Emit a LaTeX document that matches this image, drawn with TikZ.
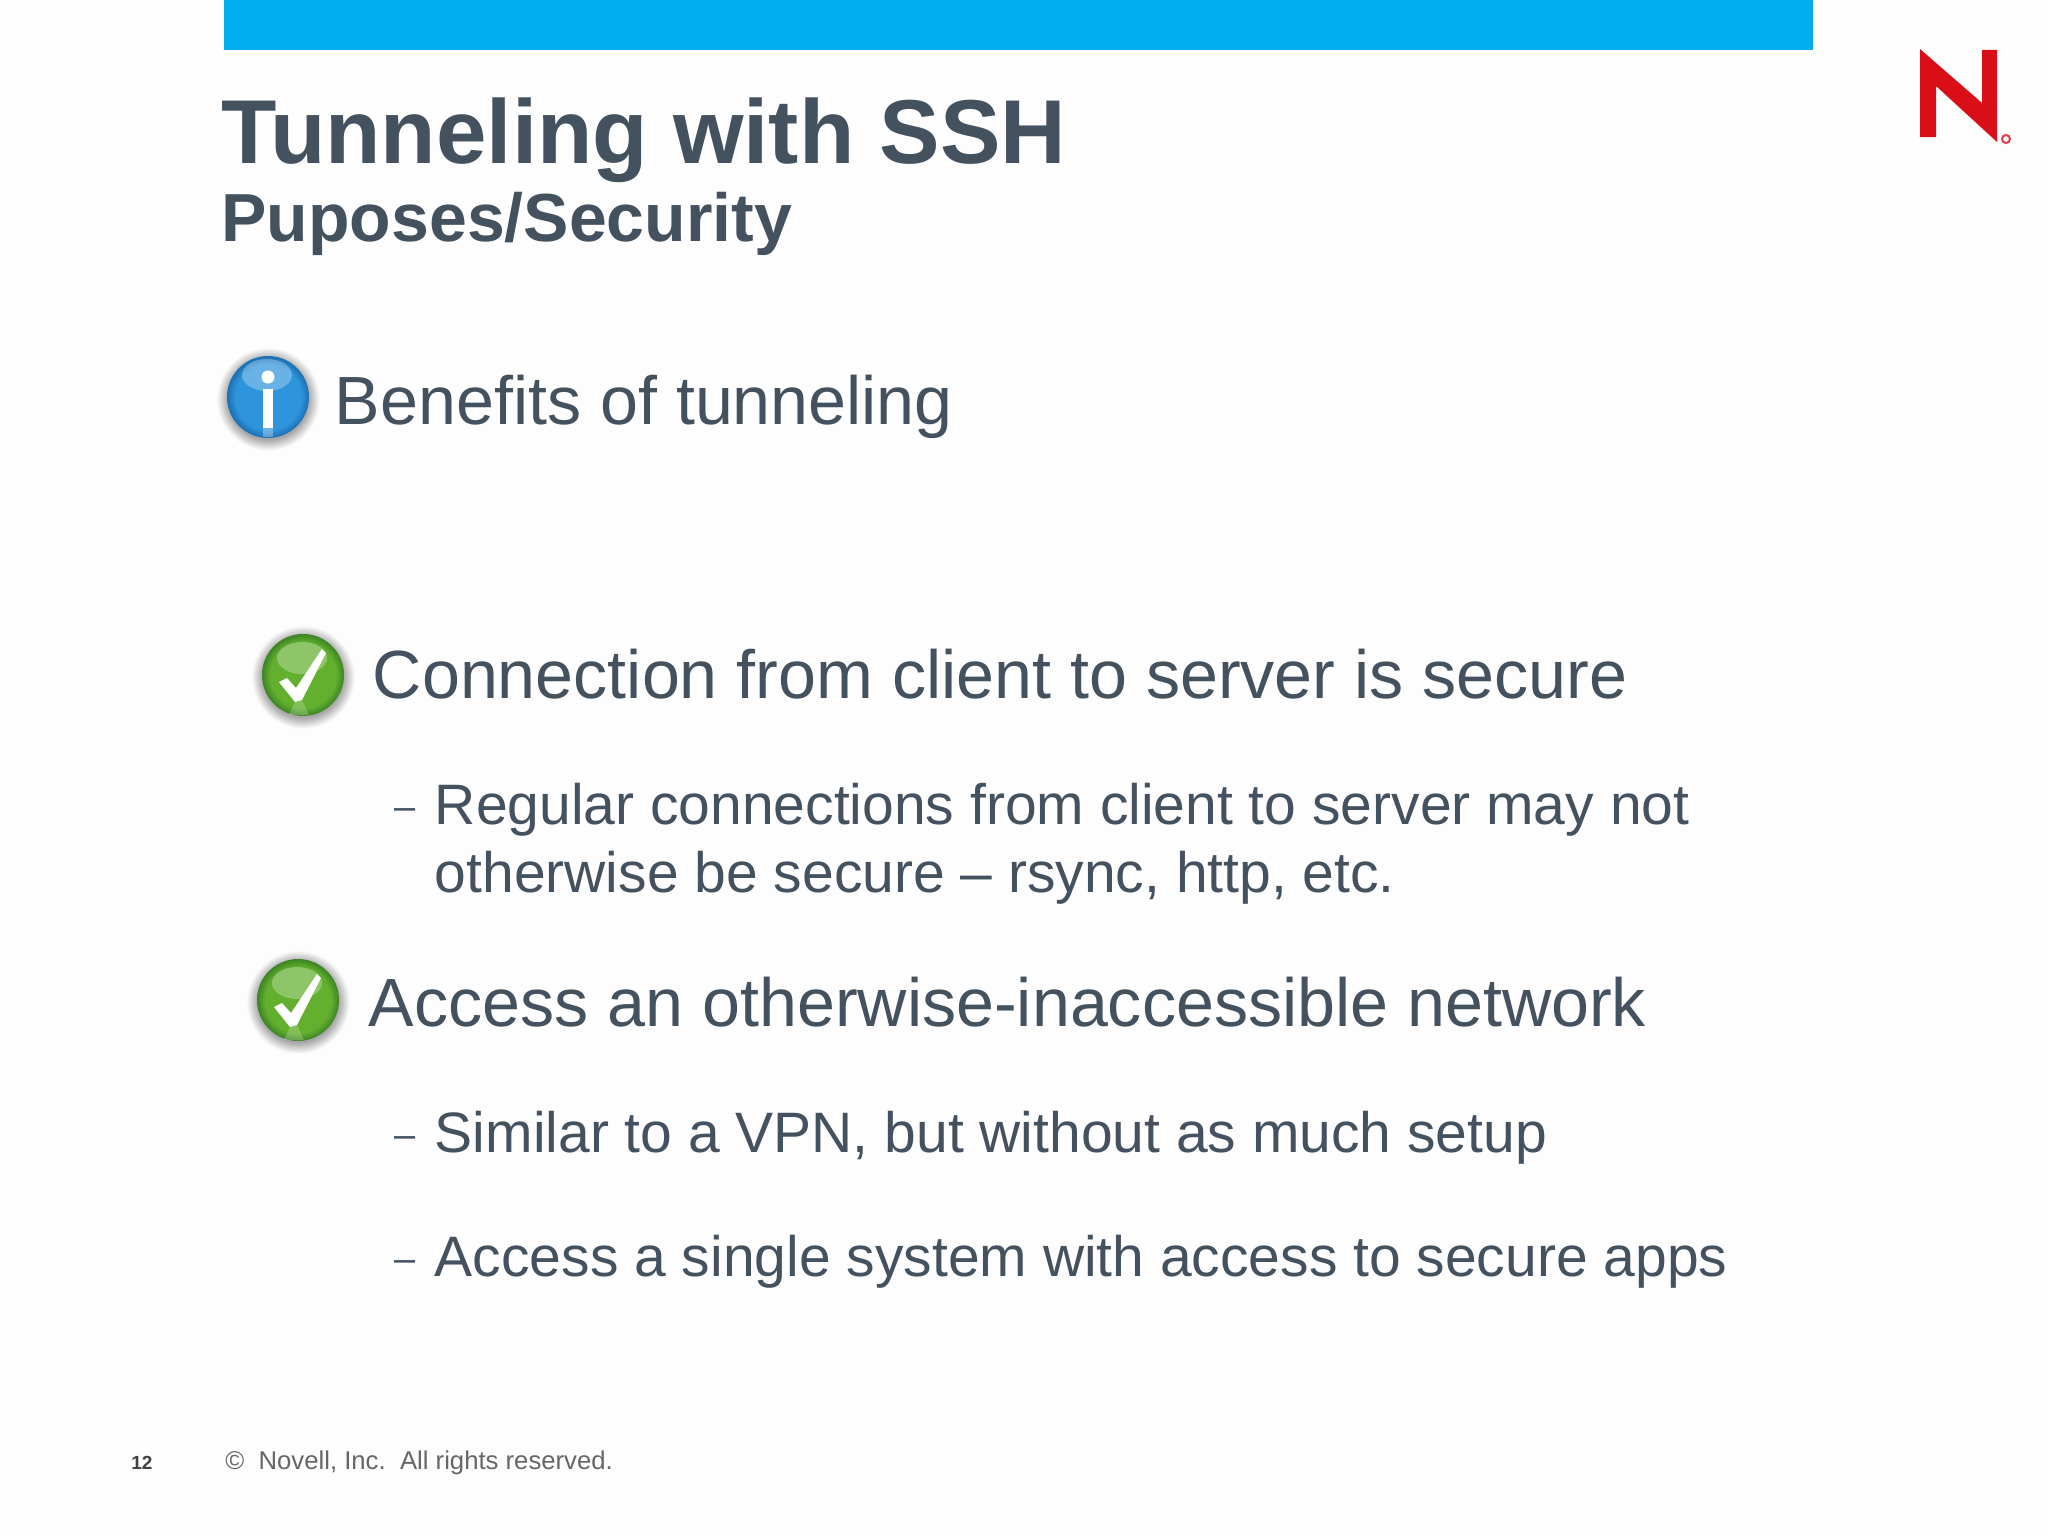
\documentclass[tikz,border=0pt]{standalone}
\usepackage{fontspec}
\setmainfont{Liberation Sans}
\definecolor{pagebg}{HTML}{FDFDFD}
\definecolor{barblue}{HTML}{00AEEF}
\definecolor{slate}{HTML}{44525F}
\definecolor{novellred}{HTML}{D90E16}
\definecolor{footgray}{HTML}{666666}
\definecolor{infolight}{HTML}{2E95DC}
\definecolor{infodark}{HTML}{1C6FB2}
\definecolor{checklight}{HTML}{63B02F}
\definecolor{checkdark}{HTML}{3B8424}
\definecolor{halogray}{HTML}{A8A8A8}
\pgfdeclareradialshading{infoball}{\pgfpoint{0bp}{0bp}}{color(0bp)=(infolight); color(20bp)=(infolight); color(25bp)=(infodark); color(50bp)=(infodark)}
\pgfdeclareradialshading{checkball}{\pgfpoint{0bp}{0bp}}{color(0bp)=(checklight); color(20bp)=(checklight); color(25bp)=(checkdark); color(50bp)=(checkdark)}
\pgfdeclareradialshading{haloball}{\pgfpoint{0bp}{0bp}}{color(0bp)=(halogray); color(18bp)=(halogray); color(23bp)=(pagebg); color(50bp)=(pagebg)}
\tikzset{
    slidetext/.style={anchor=base west, inner sep=0pt, text=slate},
    headtext/.style={slidetext, font=\bfseries\fontsize{45.35}{54}\selectfont},
    subhead/.style={slidetext, font=\bfseries\fontsize{34}{40}\selectfont},
    bigtext/.style={slidetext, font=\fontsize{34.1}{40}\selectfont},
    smalltext/.style={slidetext, font=\fontsize{28.5}{34}\selectfont},
    dashtext/.style={slidetext, font=\fontsize{19}{22}\selectfont},
    infoicon/.pic={
        \shade[shading=haloball] (0,2) circle (56);
        \shade[shading=infoball] (0,0) circle (41);
        \fill[white, opacity=0.28] (-1,-22) ellipse [x radius=25, y radius=16];
        \fill[white] (0,-20) circle (6.5);
        \fill[white] (-5,-8) rectangle (5,31);
        \fill[white, opacity=0.3] (-5,31) rectangle (5,40);
    },
    checkicon/.pic={
        \shade[shading=haloball] (0,2) circle (56);
        \shade[shading=checkball] (0,0) circle (41);
        \fill[white, opacity=0.28] (-1,-17) ellipse [x radius=25, y radius=16];
        \fill[white] (-24,7) -- (-16,3) -- (-7,13) -- (19,-26) -- (23,-22) -- (-1,25) -- (-8,27) -- cycle;
        \fill[white, opacity=0.2] (-8,27) -- (-1,25) -- (6,40) -- (-14,40) -- cycle;
    }
}
\begin{document}
\begin{tikzpicture}[x=0.5pt, y=-0.5pt]
\useasboundingbox (0,0) rectangle (2048,1536);
\fill[pagebg] (0,0) rectangle (2048,1536);
\fill[barblue] (224,0) rectangle (1813,50);

\fill[novellred] (1920,49) -- (1982,103) -- (1982,50) -- (1997,50) -- (1997,142)
    -- (1936,86) -- (1936,137) -- (1920,137) -- cycle;
\draw[novellred!80, line width=1pt] (2006,139) circle (4);

\node[headtext] (title) at (221,163) {Tunneling with SSH};
\node[subhead] (subtitle) at (221,241.5) {Puposes/Security};

\pic at (268,397) {infoicon};
\node[bigtext] (benefits) at (334.5,424.5) {Benefits of tunneling};

\pic at (303,675) {checkicon};
\node[bigtext] (secure) at (372.5,698.5) {Connection from client to server is secure};
\node[dashtext] (dasha) at (394,819) {–};
\node[smalltext] (regular) at (434.5,824.5) {Regular connections from client to server may not};
\node[smalltext] (otherwise) at (434.5,892.5) {otherwise be secure – rsync, http, etc.};

\pic at (298,1000) {checkicon};
\node[bigtext] (access) at (368.5,1026.5) {Access an otherwise-inaccessible network};
\node[dashtext] (dashb) at (394,1147) {–};
\node[smalltext] (similar) at (434.5,1152.5) {Similar to a VPN, but without as much setup};
\node[dashtext] (dashc) at (394,1271) {–};
\node[smalltext] (single) at (434.5,1276.5) {Access a single system with access to secure apps};

\node[anchor=base west, inner sep=0pt, text=black!75, font=\bfseries\fontsize{9.5}{11}\selectfont] (pagenum) at (131,1469) {12};
\node[anchor=base west, inner sep=0pt, text=footgray, font=\fontsize{12.85}{15}\selectfont] (copyright) at (225,1469) {©\ \ Novell, Inc.\ \ All rights reserved.};
\end{tikzpicture}
\end{document}
